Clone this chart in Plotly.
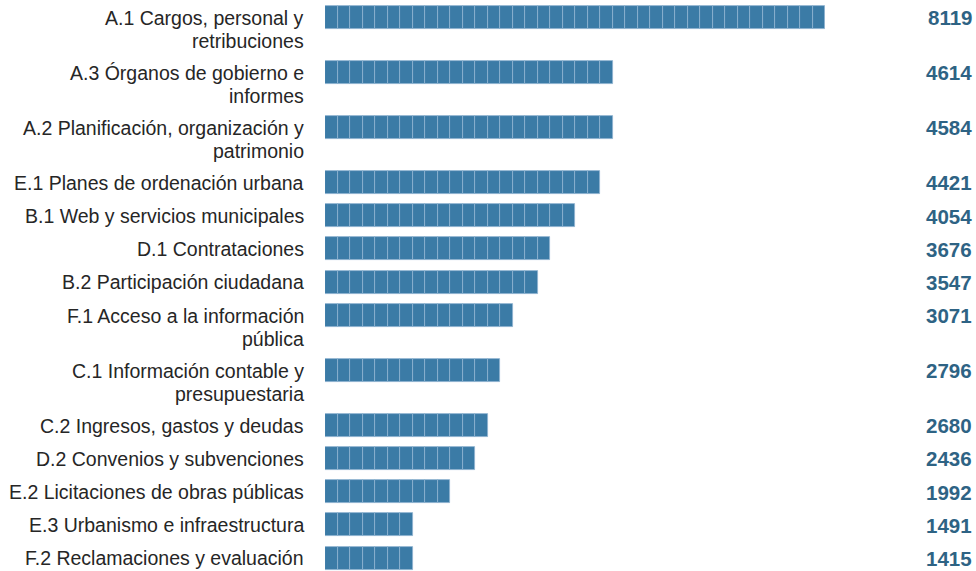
import plotly.graph_objects as go

categories = [
    "A.1 Cargos, personal y<br>retribuciones",
    "A.3 Órganos de gobierno e<br>informes",
    "A.2 Planificación, organización y<br>patrimonio",
    "E.1 Planes de ordenación urbana",
    "B.1 Web y servicios municipales",
    "D.1 Contrataciones",
    "B.2 Participación ciudadana",
    "F.1 Acceso a la información<br>pública",
    "C.1 Información contable y<br>presupuestaria",
    "C.2 Ingresos, gastos y deudas",
    "D.2 Convenios y subvenciones",
    "E.2 Licitaciones de obras públicas",
    "E.3 Urbanismo e infraestructura",
    "F.2 Reclamaciones y evaluación",
]
values = [8119, 4614, 4584, 4421, 4054, 3676, 3547, 3071, 2796, 2680, 2436, 1992, 1491, 1415]

# layout constants (pixels)
W, H = 976, 571
SEGMENTS_MAX = 40
unit = max(values) / SEGMENTS_MAX
ROW1, ROW2 = 33.2, 55.0
LINE = 23.0
BAR_H = 23

# row centres from label line count (y axis in pixel units, reversed)
centers = []
y = 17.5
for c in categories:
    centers.append(y)
    y += ROW2 if "<br>" in c else ROW1

# segmented bars
seg_y, seg_x, seg_base = [], [], []
for v, cy in zip(values, centers):
    n = int(round(v / unit))
    for k in range(n):
        seg_y.append(cy)
        seg_x.append(unit)
        seg_base.append(k * unit)

fig = go.Figure()
fig.add_trace(go.Bar(
    y=seg_y, x=seg_x, base=seg_base, orientation="h", width=BAR_H,
    marker=dict(color="#3b7ba6", line=dict(color="#8fb4d0", width=0.8)),
    hoverinfo="skip", showlegend=False,
))

annotations = []
for c, v, cy in zip(categories, values, centers):
    for i, line in enumerate(c.split("<br>")):
        annotations.append(dict(
            x=(306 - 325) / 500, xref="paper", y=cy + 0.3 + i * LINE, yref="y",
            text=line, showarrow=False, xanchor="right", yanchor="middle",
            font=dict(family="Liberation Sans, Arial", size=19.5, color="#262626"),
        ))
    annotations.append(dict(
        x=(974 - 325) / 500, xref="paper", y=cy + 0.3, yref="y",
        text=f"<b>{v}</b>", showarrow=False, xanchor="right", yanchor="middle",
        font=dict(family="Liberation Sans, Arial", size=20.5, color="#2e6384"),
    ))

fig.update_layout(
    width=W, height=H,
    margin=dict(l=325, r=W - 825, t=0, b=0),
    paper_bgcolor="white", plot_bgcolor="white",
    barmode="overlay", bargap=0,
    xaxis=dict(range=[0, unit * SEGMENTS_MAX], visible=False, fixedrange=True),
    yaxis=dict(range=[H, 0], visible=False, fixedrange=True),
    annotations=annotations,
)

fig.write_html(
    "out.html",
    config={"displayModeBar": False},
    post_script="document.body.style.margin='0';document.body.style.overflow='hidden';",
)
